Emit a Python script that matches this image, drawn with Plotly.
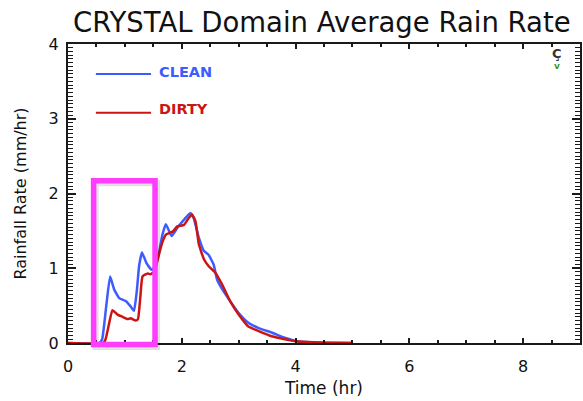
import plotly.graph_objects as go

# ---- data ----
t_clean = [0, 0.55, 0.60, 0.67, 0.74, 0.81, 0.90, 1.02, 1.10, 1.16, 1.21, 1.25, 1.30, 1.38,
           1.47, 1.53, 1.60, 1.66, 1.72, 1.82, 1.92, 2.04, 2.15, 2.21, 2.30, 2.39, 2.47,
           2.56, 2.62, 2.71, 2.85, 3.00, 3.17, 3.35, 3.58, 3.81, 4.05, 4.5, 5.0]
clean = [0, 0, 0.05, 0.48, 0.89, 0.72, 0.60, 0.56, 0.49, 0.43, 0.70, 1.03, 1.21, 1.07,
         0.98, 1.02, 1.21, 1.45, 1.59, 1.43, 1.54, 1.65, 1.74, 1.67, 1.41, 1.23, 1.18,
         1.05, 0.85, 0.72, 0.56, 0.40, 0.27, 0.20, 0.14, 0.07, 0.02, 0.005, 0]

t_dirty = [0, 0.62, 0.66, 0.72, 0.78, 0.87, 0.96, 1.05, 1.10, 1.19, 1.23, 1.27, 1.31, 1.40,
           1.45, 1.52, 1.60, 1.66, 1.72, 1.84, 1.92, 2.04, 2.12, 2.18, 2.24, 2.30, 2.39,
           2.47, 2.59, 2.71, 2.85, 3.00, 3.17, 3.35, 3.58, 3.81, 4.05, 4.5, 5.0]
dirty = [0, 0, 0.05, 0.25, 0.44, 0.38, 0.35, 0.32, 0.33, 0.30, 0.32, 0.60, 0.89, 0.93,
         0.92, 0.96, 1.19, 1.35, 1.45, 1.49, 1.56, 1.58, 1.67, 1.72, 1.63, 1.32, 1.12,
         1.03, 0.94, 0.78, 0.56, 0.38, 0.22, 0.16, 0.09, 0.05, 0.02, 0.005, 0]

series_names = ["CLEAN", "DIRTY"]
x_tick_step = 2
y_tick_step = 1
title_text = "CRYSTAL Domain Average Rain Rate"
x_title = "Time (hr)"
y_title = "Rainfall Rate (mm/hr)"

# highlighted region (data coords)
box_t = [0.45, 1.53]
box_y = [-0.02, 2.17]

# ---- styling ----
BLUE = "#3d5cff"
RED = "#cc1414"
MAG = "#ff3dff"
FONT = "DejaVu Sans"
XR = [0, 9]
YR = [0, 4]
INK = "#1a1a1a"
CLEAR = "rgba(0,0,0,0)"


def px(t):
    return (t - XR[0]) / (XR[1] - XR[0])


def py(v):
    return (v - YR[0]) / (YR[1] - YR[0])


fig = go.Figure()
fig.add_trace(go.Scatter(x=t_clean, y=clean, mode="lines", name=series_names[0],
                         line=dict(color=BLUE, width=2.5, shape="spline", smoothing=0.4)))
fig.add_trace(go.Scatter(x=t_dirty, y=dirty, mode="lines", name=series_names[1],
                         line=dict(color=RED, width=2.5, shape="spline", smoothing=0.4)))
# invisible companion trace that carries the labelled axes
fig.add_trace(go.Scatter(x=t_clean, y=clean, mode="lines", xaxis="x2", yaxis="y2",
                         line=dict(color=CLEAR, width=0), hoverinfo="skip",
                         showlegend=False))

# legend drawn as in the original (lines + coloured labels)
fig.add_shape(type="line", xref="x", yref="y", x0=0.49, x1=1.46, y0=3.60, y1=3.60,
              line=dict(color=BLUE, width=2))
fig.add_shape(type="line", xref="x", yref="y", x0=0.49, x1=1.46, y0=3.08, y1=3.08,
              line=dict(color=RED, width=2))
fig.add_annotation(x=1.57, y=3.63, xref="x", yref="y", text="<b>" + series_names[0] + "</b>",
                   showarrow=False, xanchor="left", yanchor="middle",
                   font=dict(family=FONT, size=14.5, color=BLUE))
fig.add_annotation(x=1.57, y=3.13, xref="x", yref="y", text="<b>" + series_names[1] + "</b>",
                   showarrow=False, xanchor="left", yanchor="middle",
                   font=dict(family=FONT, size=14.5, color=RED))

# magenta highlight box (with faint shadow)
fig.add_shape(type="rect", xref="paper", yref="paper",
              x0=px(box_t[0]) + 0.004, x1=px(box_t[1]) + 0.004,
              y0=py(box_y[0]) - 0.008, y1=py(box_y[1]) - 0.008,
              line=dict(color="rgba(0,0,0,0.12)", width=6))
fig.add_shape(type="rect", xref="paper", yref="paper",
              x0=px(box_t[0]), x1=px(box_t[1]), y0=py(box_y[0]), y1=py(box_y[1]),
              line=dict(color=MAG, width=5.5))

# small glyph near top-right corner
fig.add_annotation(x=8.6, y=3.87, xref="x", yref="y", text="<b>Ç</b>", showarrow=False,
                   font=dict(family=FONT, size=13, color="#333333"))
fig.add_annotation(x=8.6, y=3.7, xref="x", yref="y", text="<b>v</b>", showarrow=False,
                   font=dict(family=FONT, size=9, color="#3a9a2a"))

# frame axes: line + inside ticks, no labels
fig.update_layout(
    xaxis=dict(range=XR, tickmode="linear", tick0=0, dtick=x_tick_step,
               showline=True, linecolor=INK, linewidth=2, mirror="allticks",
               ticks="inside", ticklen=5, tickwidth=2, tickcolor=INK,
               showgrid=False, zeroline=False, showticklabels=False,
               minor=dict(tick0=0, dtick=0.5, ticks="inside", ticklen=3, tickwidth=2,
                          tickcolor=INK, showgrid=False)),
    yaxis=dict(range=YR, tickmode="linear", tick0=0, dtick=y_tick_step,
               showline=True, linecolor=INK, linewidth=2, mirror="allticks",
               ticks="inside", ticklen=8, tickwidth=1.5, tickcolor=INK,
               showgrid=False, zeroline=False, showticklabels=False,
               minor=dict(tick0=0, dtick=0.05, ticks="inside", ticklen=5, tickwidth=1.2,
                          tickcolor=INK, showgrid=False)),
    # label axes: transparent outside ticks push the labels away from the frame
    xaxis2=dict(range=XR, overlaying="x", anchor="y2", side="bottom",
                tickmode="linear", tick0=0, dtick=x_tick_step,
                ticks="outside", ticklen=9, tickcolor=CLEAR, showline=False,
                showgrid=False, zeroline=False,
                tickfont=dict(family=FONT, size=16, color="#111111"),
                title=dict(text=x_title, font=dict(family=FONT, size=17, color="#111111"),
                           standoff=6)),
    yaxis2=dict(range=YR, overlaying="y", anchor="x2", side="left",
                tickmode="linear", tick0=0, dtick=y_tick_step,
                ticks="outside", ticklen=5, tickcolor=CLEAR, showline=False,
                showgrid=False, zeroline=False,
                tickfont=dict(family=FONT, size=16, color="#111111"),
                title=dict(text=y_title, font=dict(family=FONT, size=16, color="#111111"),
                           standoff=18)),
)

fig.update_layout(
    width=583, height=401,
    margin=dict(l=68, r=1, t=44, b=58),
    paper_bgcolor="white", plot_bgcolor="white",
    showlegend=False,
    title=dict(text=title_text, x=0.552, xanchor="center", y=0.945, yanchor="middle",
               font=dict(family=FONT, size=27.5, color="#111111")),
)

fig.write_html("out.html")
